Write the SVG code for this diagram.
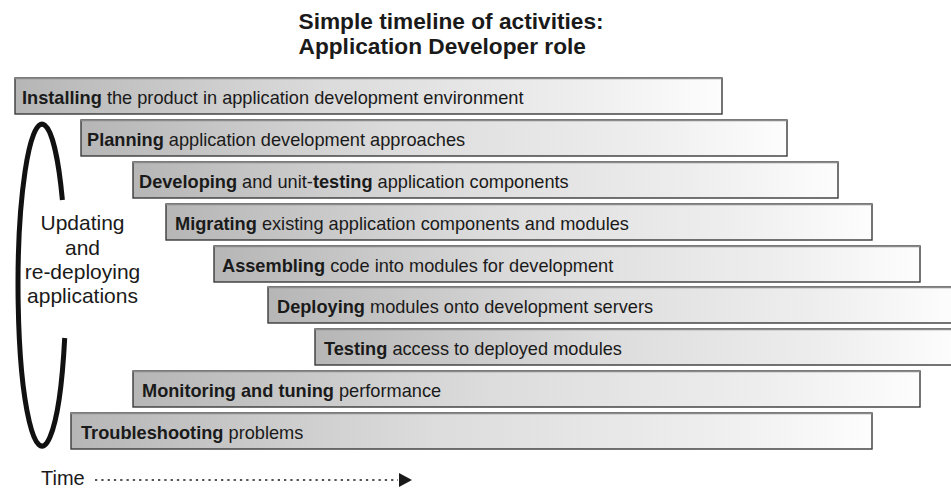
<svg xmlns="http://www.w3.org/2000/svg" width="951" height="489" viewBox="0 0 951 489">
<defs>
<linearGradient id="barGrad" x1="0" y1="0" x2="1" y2="0">
<stop offset="0" stop-color="#b6b6b6"/>
<stop offset="0.45" stop-color="#dcdcdc"/>
<stop offset="0.8" stop-color="#eeeeee"/>
<stop offset="1" stop-color="#fdfdfd"/>
</linearGradient>
</defs>
<style>
text{font-family:"Liberation Sans",Arial,Helvetica,sans-serif;fill:#1a1a1a}
.title{font-size:22.7px;font-weight:bold}
.bar{fill:url(#barGrad);stroke:#3a3a3a;stroke-width:1.4}
.top{stroke:#8a8a8a;stroke-width:1.6}
.lbl{font-size:18.2px}
.b{font-weight:bold}
.side{font-size:21px;text-anchor:middle}
.time{font-size:20px}
.loop{fill:none;stroke:#111;stroke-width:5}
.dots{stroke:#555;stroke-width:2.2;stroke-dasharray:2.3 4;fill:none}
</style>
<g id="title">
<text class="title" x="298.5" y="29">Simple timeline of activities:</text>
<text class="title" x="298.5" y="53.5">Application Developer role</text>
</g>
<g id="installing">
<rect class="bar" x="15" y="78" width="707" height="36"/>
<line class="top" x1="15" y1="78.5" x2="722" y2="78.5"/>
<text class="lbl" x="22" y="104"><tspan class="b">Installing</tspan> the product in application development environment</text>
</g>
<g id="planning">
<rect class="bar" x="81" y="120" width="706" height="36"/>
<line class="top" x1="81" y1="120.5" x2="787" y2="120.5"/>
<text class="lbl" x="87" y="146"><tspan class="b">Planning</tspan> application development approaches</text>
</g>
<g id="developing">
<rect class="bar" x="133" y="162" width="705" height="36"/>
<line class="top" x1="133" y1="162.5" x2="838" y2="162.5"/>
<text class="lbl" x="139" y="188"><tspan class="b">Developing</tspan> and unit-<tspan class="b">testing</tspan> application components</text>
</g>
<g id="migrating">
<rect class="bar" x="166" y="204" width="706" height="36"/>
<line class="top" x1="166" y1="204.5" x2="872" y2="204.5"/>
<text class="lbl" x="175" y="230"><tspan class="b">Migrating</tspan> existing application components and modules</text>
</g>
<g id="assembling">
<rect class="bar" x="214" y="246" width="706" height="36"/>
<line class="top" x1="214" y1="246.5" x2="920" y2="246.5"/>
<text class="lbl" x="222" y="272"><tspan class="b">Assembling</tspan> code into modules for development</text>
</g>
<g id="deploying">
<rect class="bar" x="268" y="287" width="686" height="36"/>
<line class="top" x1="268" y1="287.5" x2="954" y2="287.5"/>
<text class="lbl" x="277" y="313"><tspan class="b">Deploying</tspan> modules onto development servers</text>
</g>
<g id="testing">
<rect class="bar" x="315" y="329" width="639" height="36"/>
<line class="top" x1="315" y1="329.5" x2="954" y2="329.5"/>
<text class="lbl" x="324" y="355"><tspan class="b">Testing</tspan> access to deployed modules</text>
</g>
<g id="monitoring">
<rect class="bar" x="133" y="371" width="787" height="36"/>
<line class="top" x1="133" y1="371.5" x2="920" y2="371.5"/>
<text class="lbl" x="142" y="397"><tspan class="b">Monitoring and tuning</tspan> performance</text>
</g>
<g id="troubleshooting">
<rect class="bar" x="71" y="413" width="801" height="36"/>
<line class="top" x1="71" y1="413.5" x2="872" y2="413.5"/>
<text class="lbl" x="81" y="439"><tspan class="b">Troubleshooting</tspan> problems</text>
</g>
<g id="cycle">
<path class="loop" d="M 62.4 200 A 24 161 0 1 0 64.7 338"/>
<text class="side" x="82.5" y="230">Updating</text>
<text class="side" x="82.5" y="254.5">and</text>
<text class="side" x="82.5" y="279">re-deploying</text>
<text class="side" x="82.5" y="303">applications</text>
</g>
<g id="time">
<text class="time" x="41" y="485">Time</text>
</g>
<g id="connectors">
<line class="dots" x1="95" y1="480" x2="398" y2="480"/>
<polygon points="399,473 412,480 399,487" fill="#1a1a1a"/>
</g>
</svg>
